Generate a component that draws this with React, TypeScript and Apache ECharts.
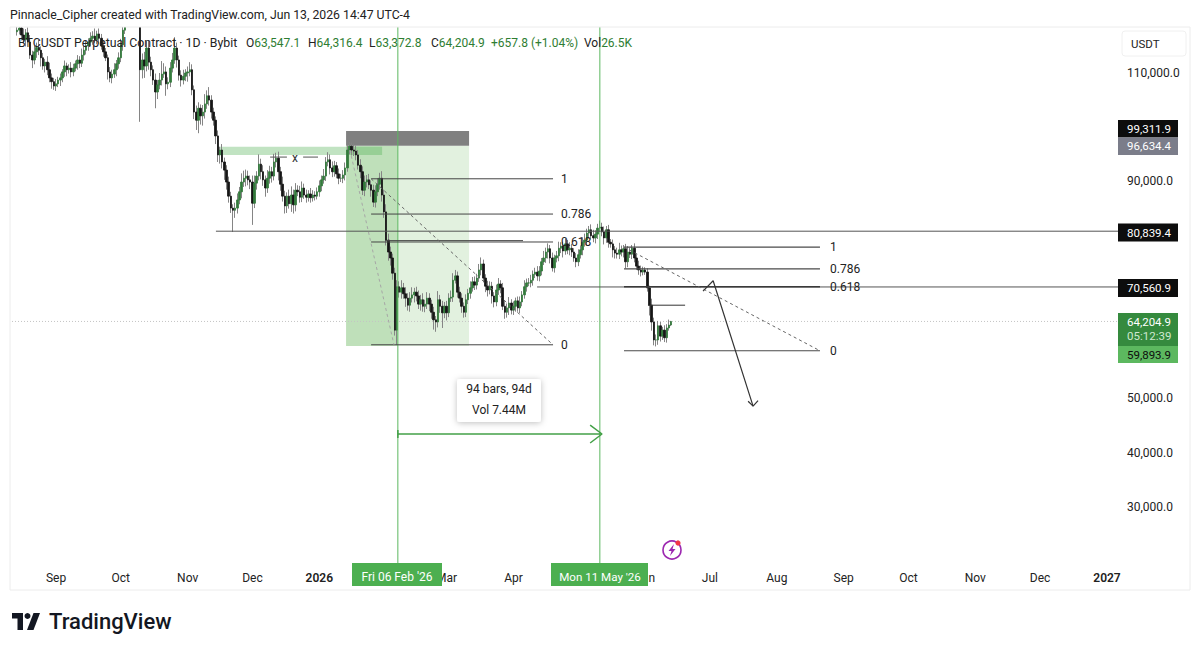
import React, { useEffect, useRef } from "react";
import * as echarts from "echarts";

const FONT = "Roboto, 'Open Sans', sans-serif";
const firstDay = -18; // days from 1 Sep 2025

const closes = [
  117.9,118.3,117,116.1,117.4,115.7,113.3,112.4,113.9,114.7,114.2,112.8,111.3,112,110.6,109.1,108.4,107.6,
  108,108.7,109.1,110.2,111.3,110.6,110.9,110.2,110.9,111.7,112.4,111.8,113.3,114.2,115,115.7,116.4,116.8,116.1,117.2,116.4,115,113.9,112.8,110.2,109.1,109.8,110.6,111.7,112.8,
  115.2,117.9,120.5,122,123,125,124,122,121.5,110.6,112.4,111.3,114.6,112,110.6,108.7,106.5,107.8,108.7,109.8,110.2,108,108.3,110.9,112.4,114.6,112.4,109.6,108.7,109.4,110,
  110.2,110.6,106.9,102.8,101.3,103.5,102.1,102.8,104.3,105.8,105,102.8,101.3,98.4,94.9,95.8,93.6,92.1,89.9,87.3,85.1,84.7,85.1,86.6,88.1,89.9,90.6,91,90.3,89.9,
  86,89.7,91,93.2,91.8,90.3,88.8,90.6,91.8,91,93.6,94.3,91.8,89.5,87.3,85.5,87.3,85.9,87.5,85.7,88.4,88.1,87.1,88.8,87.5,87.1,87.7,87,87.5,87.3,88.1,
  89.2,90.3,91,93.6,94,92.5,91.8,92.9,91.4,90.6,90.6,91.2,92.5,95.8,96.5,95.8,95.6,94.9,93,91.8,88.4,89.9,90.3,89.4,88.4,86.2,88.1,89.5,90.6,87.5,84.4,
  79.2,77,75.9,73.1,62.6,70.6,69.6,70.4,69.3,68.5,67.2,68.5,69.1,69.6,68.9,67.4,68.2,67,67.4,68.5,67.4,65.9,64.5,64.1,68.2,67,65.8,67,
  65.8,68.5,68.7,71.8,72.6,69.6,68.5,67,65.9,68.2,69.4,70.4,71.5,70.9,72.2,73.7,74.8,72.2,70.7,70,70.7,68.9,67.8,70,71.1,70.4,67,65.9,66.7,67.6,66.3,
  67,68,66.7,67.8,69.1,70.6,71.3,71.3,71.8,72.9,73.3,72.6,73.5,75.2,75.9,77,77.6,75.9,74.1,75.9,76.3,77.7,78.1,77.2,78.5,77.4,77.7,77,75.9,75.2,76.5,
  77.4,78.8,79.2,80.5,81.1,80,79.6,80.3,81.4,81.6,80.7,79.6,81.1,78.8,78.5,77.4,76.8,76.6,77.4,77,77.6,75.2,77,76.6,77.7,75.9,74.4,73.7,73.3,73.7,73.3,
  70.4,67.2,64.1,60.8,60.8,63.4,61.5,62.6,61.2,63,63.5471,64.2049,
];
const upperWicks = [
  0.6,0.9,0.8,1.2,0.7,1.0,1.3,0.8,1.1,0.9, 1.4,0.7,0.9,0.6,1.1,1.3,0.8,0.7,0.9,0.6,
  0.8,0.5,1.0,0.6,0.7,1.1,0.8,0.6,0.9,0.7, 1.2,0.8,0.9,0.7,1.1,0.9,1.4,0.6,1.0,0.8,
  1.0,0.7,0.6,0.9,0.8,1.2,0.7,1.0,1.1,0.8, 1.5,1.0,1.2,1.4,1.0,1.6,0.8,1.0,1.2,1.5,
  1.2,1.4,1.0,0.8,1.2,0.9,1.3,2.4,1.6,1.0, 0.9,1.1,1.3,2.0,1.0,0.8,0.9,1.2,0.7,1.0,
  1.4,1.0,0.8,1.2,1.1,0.7,1.3,1.8,1.0,1.6, 0.9,0.8,0.7,1.0,0.6,1.1,0.8,0.9,1.0,0.8,
  0.7,1.0,1.2,0.9,1.6,1.4,1.2,1.0,0.8,1.2, 1.4,0.9,1.8,1.0,1.2,0.8,1.5,1.1,0.9,1.5,
  1.0,1.2,0.9,1.4,1.0,0.7,1.2,1.6,1.0,1.3, 0.9,1.1,1.2,0.8,1.0,0.7,1.1,0.9,0.7,0.8,
  1.0,0.8,1.3,0.9,1.4,1.0,1.2,0.9,0.7,1.0, 0.8,0.9,1.0,0.9,0.8,0.7,1.2,1.0,0.9,1.1,
  1.0,1.2,0.9,1.1,0.8,1.0,1.2,1.1,1.0,1.3, 1.0,1.4,1.2,1.0,0.8,1.0,1.2,1.0,1.4,0.9,
  1.2,0.9,1.1,1.4,0.8,1.0,1.0,0.9,1.2,0.8, 1.1,0.9,0.8,1.0,0.7,1.6,0.9,1.0,0.8,1.0,
  0.9,1.2,1.3,1.1,0.8,1.0,0.9,0.7,1.0,0.8, 1.2,0.9,1.0,0.8,1.1,1.2,0.8,0.7,1.0,0.9,
  0.8,0.7,1.0,1.1,0.7,0.9,1.0,0.8,1.1,0.7, 0.9,0.6,0.8,1.0,0.7,1.2,0.8,0.9,1.0,0.7,
  0.8,1.1,0.9,0.7,1.3,0.8,1.0,0.7,1.0,0.6, 0.9,1.2,0.7,0.8,1.0,0.7,1.1,0.8,0.7,0.9,
  1.0,0.8,0.9,1.2,0.8,0.7,1.0,1.1,0.7,0.8, 1.2,0.8,1.0,0.7,0.9,0.6,0.8,0.7,1.0,1.3,
  0.8,0.7,0.9,1.1,0.8,0.6,0.9,0.7,1.0,0.8, 0.6,0.5,0.7,0.4,1.2,0.8,1.0,0.9,0.7,0.6,
  0.9,0.7,1.0,0.1,
];
const lowerWicks = [
  0.7,0.8,1.0,0.6,1.2,0.9,0.7,1.5,0.8,1.1, 0.9,1.6,0.7,1.2,1.0,0.8,1.3,0.7,0.9,0.6,
  1.1,0.8,0.9,1.2,0.7,1.0,0.8,0.6,1.1,0.9, 0.7,1.0,0.8,0.9,0.7,1.2,0.6,0.8,1.0,0.7,
  0.9,0.6,1.4,0.8,1.0,0.7,1.2,0.9,0.8,1.1, 0.7,0.9,1.0,0.8,0.7,1.1,1.0,9.6,1.6,2.2,
  1.0,1.4,1.2,0.9,3.0,1.3,0.8,1.0,0.7,2.2, 1.0,0.9,0.8,0.7,1.4,1.0,1.2,0.8,0.9,1.6,
  0.8,1.0,1.3,1.8,2.4,1.6,1.8,1.2,0.9,1.0, 1.2,1.0,1.5,1.3,1.6,1.2,1.8,1.4,1.2,0.9,
  4.0,1.4,1.0,0.8,1.2,0.9,1.5,1.0,1.3,4.0, 0.9,1.2,0.8,1.4,1.1,1.6,0.9,1.0,1.2,0.8,
  1.0,1.6,1.2,1.0,1.4,1.3,0.9,1.5,1.6,1.2, 0.8,1.0,0.9,0.7,1.0,0.8,0.9,0.7,0.8,0.6,
  0.9,1.0,0.7,0.9,0.8,1.2,1.0,0.9,0.8,1.1, 0.7,0.9,1.0,0.7,0.8,1.0,0.9,1.0,0.8,1.2,
  0.9,1.1,1.0,0.8,1.2,0.9,1.0,0.8,1.0,1.2, 1.1,1.0,1.6,1.4,1.2,1.0,2.7,1.0,1.2,0.9,
  1.6,1.0,1.2,0.8,1.4,1.0,0.9,1.2,1.0,1.1, 0.9,1.3,1.2,1.8,1.8,1.0,1.2,2.8,1.0,1.4,
  0.8,0.7,0.9,0.6,1.0,0.8,1.2,1.0,0.9,0.8, 1.0,0.7,0.9,0.8,0.7,1.0,0.8,1.1,1.2,0.8,
  1.4,1.0,0.8,0.9,1.0,0.7,1.2,1.0,1.3,0.8, 0.9,1.0,0.7,1.0,0.8,0.7,0.9,0.6,0.8,1.0,
  0.7,0.9,1.0,0.8,0.6,0.9,1.2,1.0,0.7,0.9, 0.8,1.0,0.9,1.2,0.7,0.8,1.0,0.9,0.7,1.0,
  0.8,0.7,1.0,0.8,0.9,1.0,0.7,0.8,1.0,0.9, 0.7,0.8,1.2,0.9,1.0,0.7,1.4,1.0,0.8,0.9,
  0.8,1.0,1.2,1.0,0.7,0.9,0.8,0.7,0.9,0.8, 0.6,0.5,0.7,1.9,1.6,1.0,1.2,0.9,1.0,0.7,
  0.8,0.9,0.5,0.2,
];

const monthLabels: [number, string][] = [
  [0, "Sep"], [30, "Oct"], [61, "Nov"], [91, "Dec"], [122, "2026"], [181, "Mar"], [212, "Apr"],
  [273, "Jun"], [303, "Jul"], [334, "Aug"], [365, "Sep"], [395, "Oct"], [426, "Nov"], [456, "Dec"], [487, "2027"],
];
const priceTicks = [30000, 40000, 50000, 90000, 110000];

const fibLeft = { x0: 146, x1: 230.3, levels: [90.5, 84, 78.85, 59.9] };
const fibRight = { x0: 263.2, x1: 354, levels: [77.9, 73.9, 58.8] };
const resistance = 80.8394;
const midLevel = 70.5609;
const lastPrice = 64.2049;
const startDay = 158.4;
const endDay = 252;

const k = (v: number) => v * 1000;

function seg(pts: number[][], color = "#3c3c3c", width = 1, type: any = "solid", z = 4) {
  return {
    type: "line",
    data: pts.map((p) => [p[0], k(p[1])]),
    showSymbol: false,
    symbol: "none",
    silent: true,
    z,
    lineStyle: { color, width, type },
  };
}
function txt(text: string, x: number, y: number, fill = "#222", size = 12, align = "left", extra: any = {}) {
  return {
    type: "text",
    x,
    y,
    silent: true,
    style: { text, fill, fontSize: size, fontFamily: FONT, align, verticalAlign: "middle", ...extra },
  };
}
function box(x: number, y: number, w: number, h: number, fill: string, extra: any = {}) {
  return { type: "rect", silent: true, shape: { x, y, width: w, height: h, ...(extra.shape || {}) }, style: { fill, ...(extra.style || {}) } };
}
function legend(letter: string, value: string, x: number) {
  return {
    type: "text",
    x,
    y: 43,
    silent: true,
    style: {
      text: `{a|${letter}}{b|${value}}`,
      verticalAlign: "middle",
      rich: {
        a: { fill: "#222", fontSize: 12, fontFamily: FONT },
        b: { fill: "#2e7d32", fontSize: 12, fontFamily: FONT },
      },
    },
  };
}

export default function App() {
  const ref = useRef<HTMLDivElement>(null);
  useEffect(() => {
    document.body.style.margin = "0";
    const chart = echarts.init(ref.current!, undefined, { renderer: "svg" });
    const days = closes.map((_, i) => firstDay + i);
    const opens = closes.map((c, i) => (i === 0 ? 117.6 : closes[i - 1]));
    const full = closes.map((c, i) => {
      const o = opens[i];
      return [days[i], k(o), k(c), k(Math.min(o, c) - lowerWicks[i]), k(Math.max(o, c) + upperWicks[i])];
    });
    const bodies = closes.map((c, i) => {
      const o = opens[i];
      return [days[i], k(o), k(c), k(Math.min(o, c)), k(Math.max(o, c))];
    });
    const monthMap = new Map(monthLabels.map(([d, s]) => [d, s]));
    const overlays: any[] = [
      box(0, 0, 1200, 27, "#ffffff"),
      box(10, 27, 1180, 563, "none", { style: { stroke: "#ececec", lineWidth: 1 } }),
      txt("Pinnacle_Cipher created with TradingView.com, Jun 13, 2026 14:47 UTC-4", 10, 15, "#222", 12.25),
      txt("BTCUSDT Perpetual Contract · 1D · Bybit", 18, 43, "#222", 12.3),
      legend("O", "63,547.1", 246),
      legend("H", "64,316.4", 308),
      legend("L", "63,372.8", 369),
      legend("C", "64,204.9", 431),
      txt("+657.8 (+1.04%)", 491, 43, "#2e7d32", 12),
      legend("Vol", "26.5K", 584),

      txt("x", 295, 158, "#333", 12, "center"),
      txt("1", 561, 179, "#222", 12),
      txt("0.786", 561, 214, "#222", 12),
      txt("0.618", 561, 242, "#222", 12),
      txt("0", 561, 345, "#222", 12),
      txt("1", 830, 247, "#222", 12),
      txt("0.786", 830, 269, "#222", 12),
      txt("0.618", 830, 287, "#222", 12),
      txt("0", 830, 351, "#222", 12),

      box(457, 379, 84, 43, "#ffffff", { shape: { r: 3 }, style: { shadowBlur: 6, shadowColor: "rgba(0,0,0,0.25)", shadowOffsetY: 1 } }),
      txt("94 bars, 94d", 499, 389, "#222", 12, "center"),
      txt("Vol 7.44M", 499, 410, "#222", 12, "center"),

      box(352, 563, 90, 23, "#4caf50"),
      txt("Fri 06 Feb '26", 397, 577, "#ffffff", 12, "center"),
      box(551, 563, 97, 23, "#4caf50"),
      txt("Mon 11 May '26", 600, 577, "#ffffff", 11.6, "center"),

      box(1122, 31, 64, 25, "#ffffff", { shape: { r: 3 }, style: { stroke: "#f0f0f0" } }),
      txt("USDT", 1131, 44, "#222", 11.5),
      box(1118, 120, 60, 17.5, "#0d0d0d"),
      txt("99,311.9", 1127, 129, "#ffffff", 11.5),
      box(1118, 137.5, 60, 17.5, "#7b7d8a"),
      txt("96,634.4", 1127, 146, "#ffffff", 11.5),
      box(1118, 223.5, 60, 18, "#0d0d0d"),
      txt("80,839.4", 1127, 232.5, "#ffffff", 11.5),
      box(1118, 279, 60, 18, "#0d0d0d"),
      txt("70,560.9", 1127, 288, "#ffffff", 11.5),
      box(1118, 313, 60, 33, "#358a3e"),
      txt("64,204.9", 1127, 322, "#ffffff", 11.5),
      txt("05:12:39", 1127, 336, "#cfe8d0", 11.5),
      box(1118, 346, 60, 17, "#5cb85f"),
      txt("59,893.9", 1127, 354.5, "#0d0d0d", 11.5),

      { type: "circle", silent: true, shape: { cx: 672, cy: 550, r: 9 }, style: { fill: "none", stroke: "#9c27b0", lineWidth: 1.6 } },
      { type: "polygon", silent: true, shape: { points: [[674, 544], [668.5, 551], [671.5, 551], [670, 556], [675.5, 549], [672.5, 549]] }, style: { fill: "#9c27b0" } },
      { type: "circle", silent: true, shape: { cx: 678, cy: 543, r: 2.6 }, style: { fill: "#f23645" } },

      { type: "polygon", silent: true, shape: { points: [[12, 613], [23, 613], [23, 630], [17.5, 630], [17.5, 618.5], [12, 618.5]] }, style: { fill: "#131722" } },
      { type: "circle", silent: true, shape: { cx: 27.5, cy: 616, r: 3 }, style: { fill: "#131722" } },
      { type: "polygon", silent: true, shape: { points: [[33.5, 613], [40, 613], [33.5, 630], [27, 630]] }, style: { fill: "#131722" } },
      txt("TradingView", 49, 621, "#131722", 22, "left", { fontWeight: 500 }),
    ];
    const option: any = {
      animation: false,
      backgroundColor: "#ffffff",
      grid: { left: 12, right: 82, top: 27, bottom: 87, show: false },
      xAxis: {
        type: "value",
        min: -20.4,
        max: 492.1,
        splitLine: { show: false },
        axisLine: { show: false },
        axisTick: { show: false },
        axisLabel: {
          customValues: monthLabels.map((m) => m[0]),
          formatter: (v: number) => {
            const s = monthMap.get(v) ?? "";
            return /^\d+$/.test(s) ? `{y|${s}}` : s;
          },
          color: "#222",
          fontSize: 12,
          fontFamily: FONT,
          margin: 8,
          hideOverlap: false,
          rich: { y: { fontWeight: 600, fontSize: 12, fontFamily: FONT, color: "#222" } },
        },
      },
      yAxis: {
        type: "value",
        position: "right",
        min: 19493,
        max: 118479,
        splitLine: { show: false },
        axisLine: { show: false },
        axisTick: { show: false },
        axisLabel: {
          customValues: priceTicks,
          formatter: (v: number) => v.toLocaleString("en-US", { minimumFractionDigits: 1 }),
          color: "#222",
          fontSize: 12,
          fontFamily: FONT,
          margin: 9,
        },
      },
      series: [
        {
          type: "line",
          data: [],
          silent: true,
          z: 1,
          markArea: {
            silent: true,
            data: [
              [{ coord: [134.4, k(96.6)], itemStyle: { color: "#bfe0ba", opacity: 1 } }, { coord: [158.4, k(59.7)] }],
              [{ coord: [158.4, k(96.6)], itemStyle: { color: "#e2f1df", opacity: 1 } }, { coord: [191.4, k(59.7)] }],
              [{ coord: [134.4, k(99.3)], itemStyle: { color: "#808080", opacity: 1 } }, { coord: [191.4, k(96.6)] }],
              [{ coord: [75.1, k(96.4)], itemStyle: { color: "rgb(76,175,80)", opacity: 0.35 } }, { coord: [151.1, k(94.9)] }],
            ],
          },
        },
        seg([[-20.4, lastPrice], [492.1, lastPrice]], "#c4c4c4", 1, [1, 2], 2),
        {
          type: "candlestick",
          name: "wicks",
          data: full,
          encode: { x: 0, y: [1, 2, 3, 4] },
          barWidth: 1,
          z: 3,
          silent: true,
          itemStyle: { color: "#858585", color0: "#858585", borderColor: "#858585", borderColor0: "#858585", borderWidth: 1 },
        },
        {
          type: "candlestick",
          name: "BTCUSDT",
          data: bodies,
          encode: { x: 0, y: [1, 2, 3, 4] },
          barWidth: 2,
          z: 3,
          silent: true,
          itemStyle: { color: "#337a3c", color0: "#151515", borderColor: "#337a3c", borderColor0: "#151515", borderWidth: 0.8 },
        },
        // measurement verticals
        seg([[startDay, 19.5], [startDay, 118.5]], "#5cb85f", 1),
        seg([[endDay, 19.5], [endDay, 118.5]], "#5cb85f", 1),
        // horizontals
        seg([[74.1, resistance], [492.1, resistance]], "#555555", 1),
        seg([[222.9, midLevel], [492.1, midLevel]], "#555555", 1),
        // left fib
        ...fibLeft.levels.map((l) => seg([[fibLeft.x0, l], [fibLeft.x1, l]], "#444444", 1)),
        seg([[152.5, 79.1], [216.4, 79.1]], "#444444", 1),
        seg([[fibLeft.x0, 90.5], [fibLeft.x1, 59.9]], "#666666", 1, [3, 3]),
        seg([[136.2, 95.8], [156.6, 59.9]], "#a6a6a6", 1, [3, 3]),
        // right fib
        ...fibRight.levels.map((l) => seg([[fibRight.x0, l], [fibRight.x1, l]], "#4a4a4a", 1.2)),
        seg([[fibRight.x0, 70.6], [fibRight.x1, 70.6]], "#3a3a3a", 1.5),
        seg([[fibRight.x0, 77.9], [fibRight.x1, 58.8]], "#666666", 1, [3, 3]),
        seg([[274.3, 67.2], [291.5, 67.2]], "#333333", 1),
        // x marker
        seg([[99.2, 94.5], [107, 94.5]], "#555555", 1),
        seg([[114.5, 94.5], [121.4, 94.5]], "#555555", 1),
        // drawn path
        seg([[299.8, 69.8], [304.5, 71.7], [323, 48.6]], "#333333", 1.2),
        seg([[320.7, 49.5], [323, 48.6], [325.3, 49.6]], "#333333", 1.2),
        // date range arrow
        seg([[startDay, 43.46], [253, 43.46]], "#43a047", 1.5),
        seg([[startDay, 44.2], [startDay, 42.7]], "#43a047", 1.5),
        seg([[247.5, 45.1], [253, 43.46], [247.5, 41.8]], "#43a047", 1.5),
      ],
      graphic: { elements: overlays.map((el, i) => ({ ...el, z: 50 + i * 0.01 })) },
    };
    chart.setOption(option);
    return () => chart.dispose();
  }, []);
  return <div ref={ref} style={{ position: "fixed", left: 0, top: 0, width: 1200, height: 651 }} />;
}
